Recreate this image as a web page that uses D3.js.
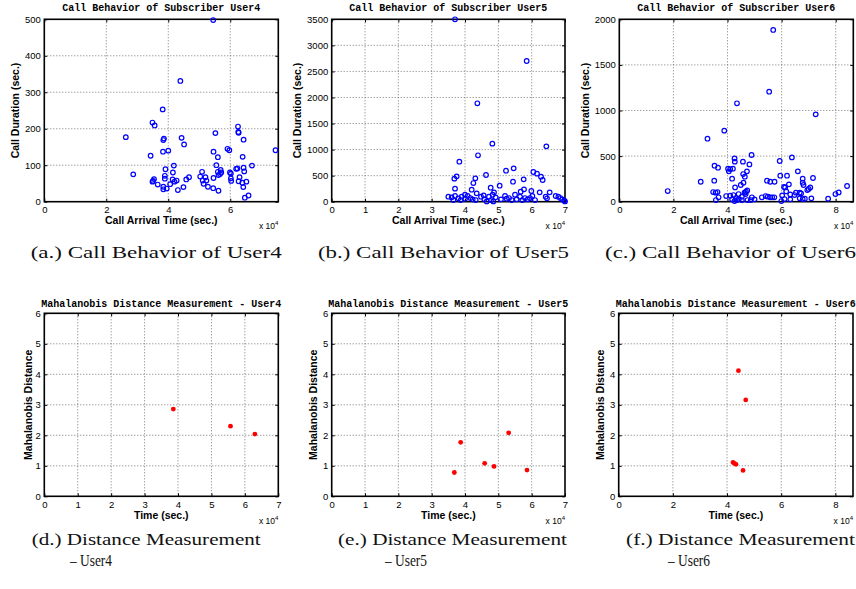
<!DOCTYPE html>
<html>
<head>
<meta charset="utf-8">
<script src="https://cdn.jsdelivr.net/npm/d3@7"></script>
<style>
  body { margin: 0; background: #fff; }
  svg { display: block; }
</style>
</head>
<body>
<div id="chart"></div>
<script>
// arrival times are in units of 10^4 sec (as on the axes), durations in sec

// User4 call behavior
var user4Time = [5.45, 4.39, 3.82, 3.49, 3.56, 2.63, 3.84, 3.86, 4.43, 4.51, 5.52, 6.25, 6.26, 6.27, 6.43,
  3.43, 3.83, 4.00, 5.46, 5.60, 5.91, 5.97, 6.40, 7.46, 2.87, 3.91, 3.89, 3.89, 4.18, 4.15,
  3.51, 3.54, 3.49, 3.66, 3.84, 3.84, 3.95, 4.06, 4.14, 4.20, 4.27, 4.31, 4.49, 4.58, 4.67,
  5.09, 5.03, 5.11, 5.14, 5.20, 5.23, 5.28, 5.45, 5.46, 5.55, 5.60, 5.62, 5.67, 5.69, 5.71,
  5.62, 5.99, 6.02, 6.02, 6.03, 6.19, 6.23, 6.27, 6.30, 6.39, 6.43, 6.45, 6.42, 6.52, 6.59,
  6.47, 6.70];
var user4Dur = [498, 331, 253, 217, 209, 177, 169, 173, 175, 157, 188, 206, 191, 189, 170,
  126, 137, 140, 137, 122, 145, 141, 123, 141, 75, 89, 71, 63, 99, 80,
  57, 62, 55, 47, 41, 34, 36, 48, 61, 55, 58, 32, 40, 61, 67,
  82, 69, 58, 49, 67, 58, 41, 37, 65, 100, 82, 73, 76, 87, 80,
  30, 80, 77, 64, 57, 90, 91, 56, 67, 52, 93, 83, 40, 55, 17,
  11, 99];

// User5 call behavior
var user5Time = [3.70, 5.85, 4.37, 4.82, 6.44, 4.39, 3.83, 3.75, 3.68, 4.31, 4.63, 5.23, 5.46, 6.05, 6.16,
  6.28, 6.33, 5.76, 5.44, 4.25, 5.04, 3.70, 4.20, 4.77, 5.77, 5.99, 5.67, 6.24, 6.54, 4.87,
  4.83, 4.35, 4.48, 3.50, 3.60, 3.70, 3.80, 3.90, 4.00, 4.08, 4.16, 4.23, 4.56, 4.58, 4.65,
  4.72, 4.78, 4.85, 4.92, 5.08, 5.20, 5.25, 5.32, 5.40, 5.50, 5.55, 5.65, 5.72, 5.80, 5.88,
  5.95, 6.02, 6.10, 6.42, 6.46, 6.72, 6.80, 6.86, 6.92, 6.98, 7.00, 4.32, 4.00, 3.87, 3.65];
var user5Dur = [3500, 2700, 1888, 1114, 1062, 890, 768, 486, 442, 448, 512, 595, 640, 570, 538,
  480, 416, 429, 384, 358, 307, 250, 230, 269, 237, 205, 192, 179, 179, 179,
  134, 160, 96, 96, 83, 109, 64, 96, 58, 109, 70, 45, 122, 45, 6,
  96, 32, 6, 83, 45, 109, 58, 70, 32, 134, 45, 96, 32, 70, 45,
  70, 109, 32, 96, 64, 109, 96, 70, 45, 19, 6, 32, 134, 32, 32];

// User6 call behavior
var user6Time = [5.69, 5.54, 4.35, 7.26, 3.88, 3.26, 4.89, 6.38, 4.26, 4.27, 4.57, 5.93, 4.81, 3.52, 3.65,
  4.02, 4.10, 4.20, 4.05, 6.60, 4.58, 4.72, 5.95, 6.20, 6.78, 7.16, 4.17, 3.01, 3.51, 5.46,
  5.58, 5.74, 4.64, 4.59, 6.78, 6.81, 6.27, 6.09, 6.13, 7.06, 4.28, 4.49, 8.42, 6.95, 7.00,
  1.79, 3.47, 3.56, 3.63, 8.11, 7.99, 6.17, 6.53, 6.67, 6.72, 6.32, 6.48, 3.95, 4.10, 4.22,
  4.41, 4.63, 4.68, 4.73, 4.67, 3.67, 3.57, 4.90, 5.00, 5.27, 5.41, 5.49, 5.58, 5.65, 5.73,
  6.02, 5.99, 6.11, 6.32, 6.67, 6.78, 6.86, 7.10, 7.72, 4.17, 4.26, 4.35, 4.42, 4.53, 4.74,
  4.53, 4.31, 4.86];
var user6Dur = [1883, 1206, 1079, 958, 779, 691, 512, 486, 475, 439, 439, 446, 409, 395, 373,
  362, 358, 362, 333, 333, 303, 333, 285, 285, 252, 260, 252, 219, 230, 230,
  219, 219, 274, 208, 208, 183, 190, 161, 157, 157, 157, 183, 172, 128, 139,
  117, 106, 99, 106, 102, 84, 113, 99, 99, 91, 80, 73, 62, 66, 73,
  84, 99, 110, 124, 84, 48, 18, 48, 26, 48, 62, 55, 48, 48, 48,
  69, 7, 29, 26, 37, 29, 33, 37, 33, 26, 7, 18, 29, 18, 18,
  55, 40, 18];

// Mahalanobis distance measurements
var dist4Time = [3.86, 5.57, 6.30];
var dist4Value = [2.86, 2.30, 2.04];
var dist5Time = [3.68, 3.87, 4.59, 4.87, 5.31, 5.86];
var dist5Value = [0.78, 1.77, 1.08, 0.98, 2.08, 0.86];
var dist6Time = [4.42, 4.69, 4.22, 4.27, 4.33, 4.59];
var dist6Value = [4.12, 3.16, 1.11, 1.08, 1.05, 0.85];

// tick values
var ticks7 = [0, 1, 2, 3, 4, 5, 6, 7];
var ticksEven = [0, 2, 4, 6, 8];
var ticksUser4Dur = [0, 100, 200, 300, 400, 500];
var ticksUser5Dur = [0, 500, 1000, 1500, 2000, 2500, 3000, 3500];
var ticksUser6Dur = [0, 500, 1000, 1500, 2000];
var ticksDist = [0, 1, 2, 3, 4, 5, 6];

var titles = ["Call Behavior of Subscriber User4", "Call Behavior of Subscriber User5", "Call Behavior of Subscriber User6",
  "Mahalanobis Distance Measurement - User4", "Mahalanobis Distance Measurement - User5", "Mahalanobis Distance Measurement - User6"];
var captionsTop = ["(a.) Call Behavior of User4", "(b.) Call Behavior of User5", "(c.) Call Behavior of User6"];
var captionsBottom = ["(d.) Distance Measurement", "(e.) Distance Measurement", "(f.) Distance Measurement"];
var captionsBottom2 = ["\u2013 User4", "\u2013 User5", "\u2013 User6"];

var svg = d3.select("#chart").append("svg")
  .attr("width", 856)
  .attr("height", 589);

var panels = [
  { xs: user4Time, ys: user4Dur, xDomain: [0, 7.55], yDomain: [0, 500], xTicks: [0, 2, 4, 6], yTicks: ticksUser4Dur,
    left: 44.3, top: 19.3, w: 234, h: 182.4, title: titles[0], titleY: 10.8, xLabel: "Call Arrival Time (sec.)", yLabel: "Call Duration (sec.)", yOff: 28.6, kind: "call" },
  { xs: user5Time, ys: user5Dur, xDomain: [0, 7], yDomain: [0, 3500], xTicks: ticks7, yTicks: ticksUser5Dur,
    left: 331.7, top: 19.3, w: 233.3, h: 182.4, title: titles[1], titleY: 10.8, xLabel: "Call Arrival Time (sec.)", yLabel: "Call Duration (sec.)", yOff: 34, kind: "call" },
  { xs: user6Time, ys: user6Dur, xDomain: [0, 8.65], yDomain: [0, 2000], xTicks: ticksEven, yTicks: ticksUser6Dur,
    left: 619.3, top: 19.3, w: 234, h: 182.4, title: titles[2], titleY: 10.8, xLabel: "Call Arrival Time (sec.)", yLabel: "Call Duration (sec.)", yOff: 34.3, kind: "call" },
  { xs: dist4Time, ys: dist4Value, xDomain: [0, 7], yDomain: [0, 6], xTicks: ticks7, yTicks: ticksDist,
    left: 44.3, top: 313.3, w: 234, h: 183, title: titles[3], titleY: 306.8, xLabel: "Time (sec.)", yLabel: "Mahalanobis Distance", yOff: 16, kind: "dist" },
  { xs: dist5Time, ys: dist5Value, xDomain: [0, 7], yDomain: [0, 6], xTicks: ticks7, yTicks: ticksDist,
    left: 331.7, top: 313.3, w: 233.3, h: 183, title: titles[4], titleY: 306.8, xLabel: "Time (sec.)", yLabel: "Mahalanobis Distance", yOff: 18.4, kind: "dist" },
  { xs: dist6Time, ys: dist6Value, xDomain: [0, 8.65], yDomain: [0, 6], xTicks: ticksEven, yTicks: ticksDist,
    left: 618.7, top: 313.3, w: 234.3, h: 183, title: titles[5], titleY: 306.8, xLabel: "Time (sec.)", yLabel: "Mahalanobis Distance", yOff: 18, kind: "dist" }
];

function drawPanel(p) {
  var x = d3.scaleLinear().domain(p.xDomain).range([p.left, p.left + p.w]);
  var y = d3.scaleLinear().domain(p.yDomain).range([p.top + p.h, p.top]);
  var g = svg.append("g");
  var bottom = p.top + p.h, right = p.left + p.w;

  // dotted grid
  g.selectAll(".vg").data(p.xTicks.filter(function(t) { return t > p.xDomain[0] && t < p.xDomain[1]; }))
    .enter().append("line")
    .attr("x1", function(d) { return x(d); }).attr("x2", function(d) { return x(d); })
    .attr("y1", p.top).attr("y2", bottom)
    .attr("stroke", "#555").attr("stroke-width", 0.8).attr("stroke-dasharray", "1,2");
  g.selectAll(".hg").data(p.yTicks.filter(function(t) { return t > p.yDomain[0] && t < p.yDomain[1]; }))
    .enter().append("line")
    .attr("x1", p.left).attr("x2", right)
    .attr("y1", function(d) { return y(d); }).attr("y2", function(d) { return y(d); })
    .attr("stroke", "#555").attr("stroke-width", 0.8).attr("stroke-dasharray", "1,2");

  // axes (ticks point inward like matlab)
  var xa = g.append("g").attr("transform", "translate(0," + bottom + ")")
    .call(d3.axisBottom(x).tickValues(p.xTicks).tickSize(-3).tickPadding(4.5).tickFormat(d3.format("d")));
  var ya = g.append("g").attr("transform", "translate(" + p.left + ",0)")
    .call(d3.axisLeft(y).tickValues(p.yTicks).tickSize(-3).tickPadding(3.5).tickFormat(d3.format("d")));
  g.append("g").attr("transform", "translate(0," + p.top + ")")
    .call(d3.axisTop(x).tickValues(p.xTicks).tickSize(-3).tickFormat(""));
  g.append("g").attr("transform", "translate(" + right + ",0)")
    .call(d3.axisRight(y).tickValues(p.yTicks).tickSize(-3).tickFormat(""));
  g.selectAll(".domain").remove();
  g.selectAll(".tick line").attr("stroke", "#000");
  [xa, ya].forEach(function(a) {
    a.selectAll("text").attr("font-family", "'Liberation Sans', Arial, sans-serif")
      .attr("font-size", 9.5).attr("fill", "#000");
  });

  // box
  g.append("rect")
    .attr("x", p.left).attr("y", p.top).attr("width", p.w).attr("height", p.h)
    .attr("fill", "none").attr("stroke", "#000").attr("stroke-width", 1.6);

  // marks
  var pts = p.xs.map(function(v, i) { return [v, p.ys[i]]; });
  if (p.kind === "call") {
    g.selectAll(".pt").data(pts).enter().append("circle")
      .attr("cx", function(d) { return x(d[0]); })
      .attr("cy", function(d) { return y(d[1]); })
      .attr("r", 2.3)
      .attr("fill", "none").attr("stroke", "#0000ff").attr("stroke-width", 1.2);
  } else {
    g.selectAll(".pt").data(pts).enter().append("circle")
      .attr("cx", function(d) { return x(d[0]); })
      .attr("cy", function(d) { return y(d[1]); })
      .attr("r", 2.4)
      .attr("fill", "#ff0000");
  }

  // title
  g.append("text")
    .attr("x", (p.left + right) / 2).attr("y", p.titleY)
    .attr("text-anchor", "middle")
    .attr("font-family", "'Liberation Mono', 'Courier New', monospace")
    .attr("font-weight", "bold").attr("font-size", 10)
    .text(p.title);

  // axis labels
  g.append("text")
    .attr("x", (p.left + right) / 2).attr("y", bottom + 22.5)
    .attr("text-anchor", "middle")
    .attr("font-family", "'Liberation Sans', Arial, sans-serif")
    .attr("font-weight", "bold").attr("font-size", 10.5)
    .text(p.xLabel);
  g.append("text")
    .attr("transform", "translate(" + (p.left - p.yOff) + "," + (p.top + p.h / 2) + ") rotate(-90)")
    .attr("text-anchor", "middle").attr("dy", "0.35em")
    .attr("font-family", "'Liberation Sans', Arial, sans-serif")
    .attr("font-weight", "bold").attr("font-size", 10.5)
    .text(p.yLabel);

  // exponent
  var ex = g.append("text")
    .attr("x", right).attr("y", bottom + 27.5)
    .attr("text-anchor", "end")
    .attr("font-family", "'Liberation Sans', Arial, sans-serif")
    .attr("font-size", 8.5);
  ex.append("tspan").text("x 10");
  ex.append("tspan").attr("dy", -4).attr("font-size", 6).text("4");
}

panels.forEach(drawPanel);

// sub-figure captions
var capX = [30.7, 318, 605];
var capX2 = [31.7, 338, 626];
var capIndent = [38.3, 47, 42];
function caption(txt, x0, y0, len) {
  svg.append("text")
    .attr("x", x0).attr("y", y0)
    .attr("font-family", "'Liberation Serif', 'Times New Roman', serif")
    .attr("font-size", 16.5).attr("fill", "#111")
    .attr("textLength", len).attr("lengthAdjust", "spacingAndGlyphs")
    .text(txt);
}
captionsTop.forEach(function(c, i) { caption(c, capX[i], 258, 251); });
captionsBottom.forEach(function(c, i) { caption(c, capX2[i], 545, 229); });
captionsBottom2.forEach(function(c, i) { caption(c, capX2[i] + capIndent[i], 566, 42); });
</script>
</body>
</html>
